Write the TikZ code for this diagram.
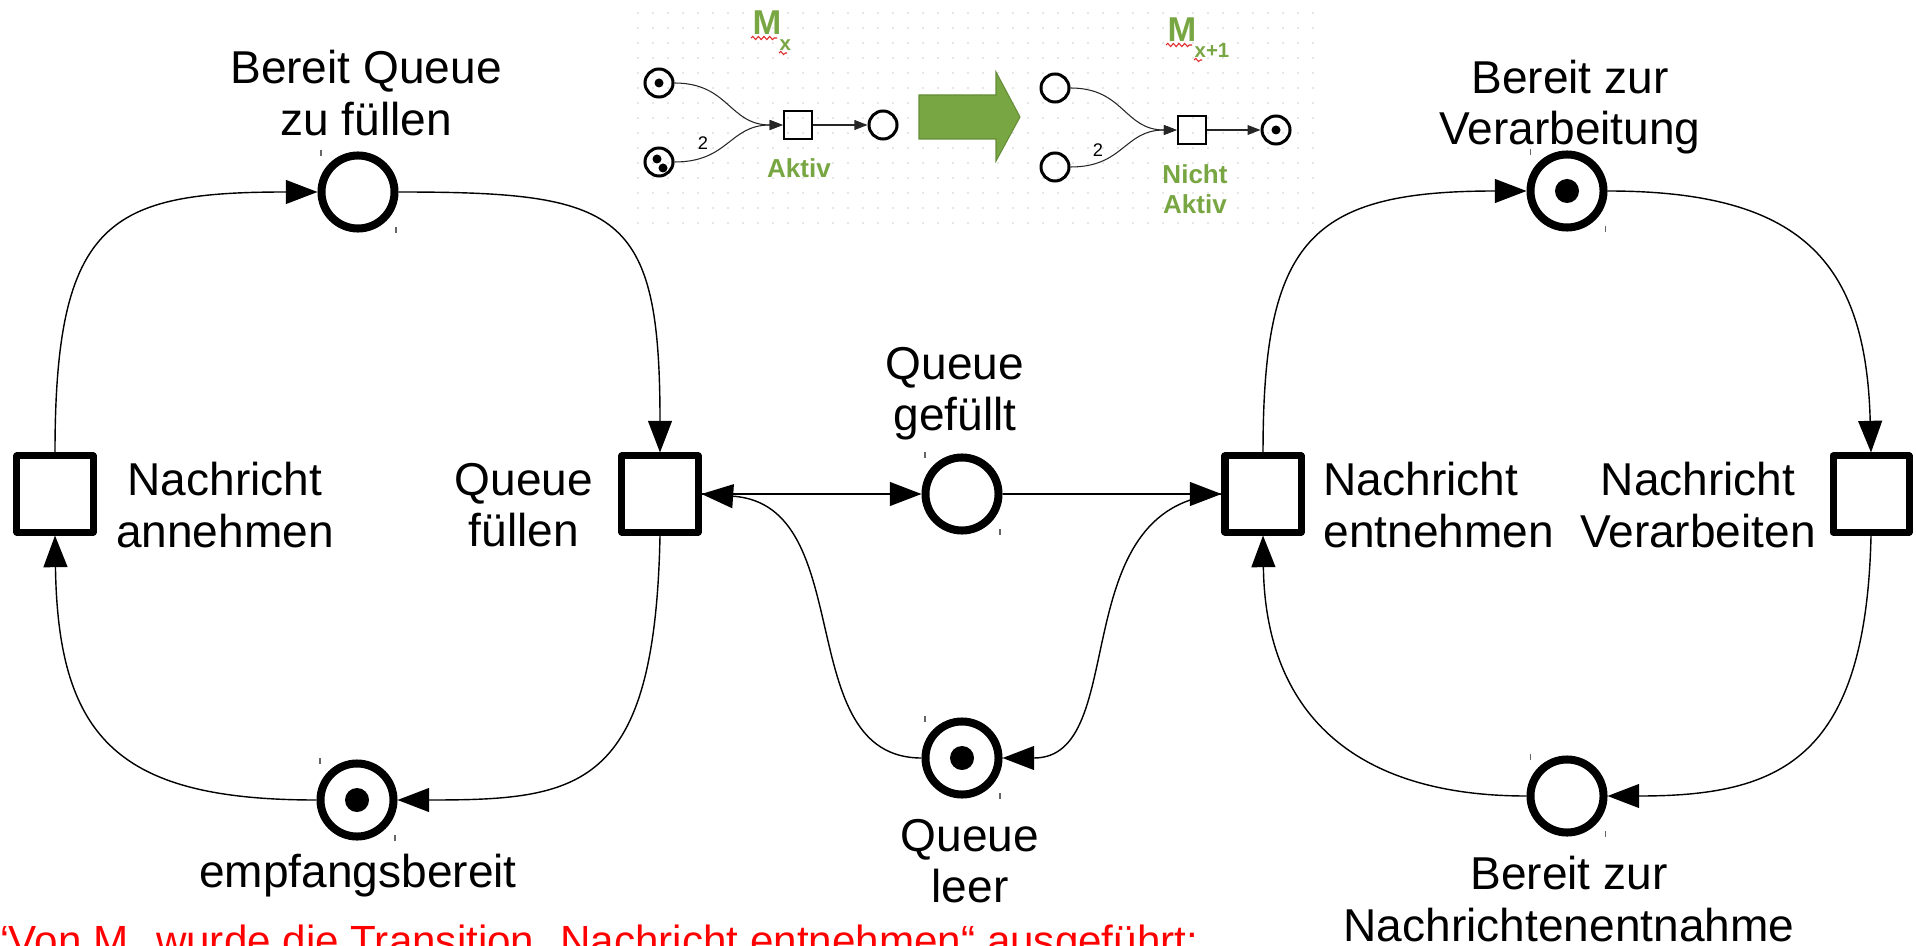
\documentclass[tikz,border=0pt]{standalone}
\usepackage{fontspec}
\setmainfont{Liberation Sans}
\usetikzlibrary{arrows.meta,decorations.pathmorphing}
\definecolor{okgreen}{RGB}{120,166,66}
\definecolor{spellred}{RGB}{225,40,40}
\begin{document}
\begin{tikzpicture}[x=0.01cm,y=-0.01cm,
  place/.style={circle,draw,line width=0.08cm,minimum size=0.73cm,inner sep=0pt},
  trans/.style={rectangle,draw,line width=0.07cm,minimum size=0.76cm,inner sep=0pt,line join=round},
  arc/.style={line width=0.4pt,-{Triangle[length=9pt,width=6.8pt]}},
  token/.style={circle,fill,inner sep=0pt,minimum size=0.24cm},
  lbl/.style={align=center,inner sep=0pt,font=\fontsize{13.1pt}{14.6pt}\selectfont},
  tick/.style={line width=0.3pt,black!60},
  iplace/.style={circle,draw,line width=0.03cm,minimum size=0.28cm,inner sep=0pt},
  itrans/.style={rectangle,draw,line width=0.025cm,minimum size=0.28cm,inner sep=0pt},
  itoken/.style={circle,fill,inner sep=0pt,minimum size=0.09cm},
  iarc/.style={line width=0.3pt,black!85,-{Triangle[length=3.7pt,width=2.8pt]}},
  ilbl/.style={align=center,inner sep=0pt,text=okgreen,font=\bfseries\fontsize{7.4pt}{8.6pt}\selectfont},
  mlbl/.style={anchor=base west,inner sep=0pt,text=okgreen,font=\bfseries\fontsize{9.8pt}{10pt}\selectfont},
  msub/.style={anchor=base west,inner sep=0pt,text=okgreen,font=\bfseries\fontsize{5.8pt}{6pt}\selectfont},
  weight/.style={inner sep=0pt,font=\fontsize{5.2pt}{6pt}\selectfont},
  squiggle/.style={spellred,line width=0.3pt,decorate,decoration={snake,amplitude=0.45pt,segment length=1.6pt}}
]
\useasboundingbox (0,0) rectangle (1916,946);

% ---------- dotted grid behind the firing example ----------
\foreach \i in {0,...,45}
  \foreach \j in {0,...,14}
    \fill[black!20] (638+15*\i,13+15*\j) circle (0.25pt);

% ---------- places ----------
\node[place] (P1) at (358,192) {};
\node[place] (P2) at (357,800) {};
\node[place] (P3) at (962,494) {};
\node[place] (P4) at (962,758) {};
\node[place] (P5) at (1567,191) {};
\node[place] (P6) at (1567,796) {};

% selection ticks at the corners of each place
\foreach \p in {P1,P2,P3,P4,P5,P6} {
  \draw[tick] ([shift={(-37,-42)}]\p.center) -- ++(0,6);
  \draw[tick] ([shift={(38,35)}]\p.center) -- ++(0,6);
}

% tokens
\node[token] at (P2) {};
\node[token] at (P4) {};
\node[token] at (P5) {};

% ---------- transitions ----------
\node[trans] (T1) at (55,494) {};
\node[trans] (T2) at (660,494) {};
\node[trans] (T3) at (1263,494) {};
\node[trans] (T4) at (1871,494) {};

% ---------- arcs ----------
\draw[arc] (T1.north) .. controls (55,220) and (110,192) .. (P1.west);
\draw[arc] (P1.east) .. controls (620,192) and (660,210) .. (T2.north);
\draw[arc] (T2.south) .. controls (655,790) and (580,800) .. (P2.east);
\draw[arc] (P2.west) .. controls (120,800) and (58,740) .. (T1.south);
\draw[arc] (T2.east) -- (P3.west);
\draw[arc] (P4.west) .. controls (790,758) and (860,505) .. (T2.east);
\draw[arc] (P3.east) -- (T3.west);
\draw[arc] (T3.west) .. controls (1062,505) and (1132,758) .. (P4.east);
\draw[arc] (T3.north) .. controls (1263,240) and (1310,191) .. (P5.west);
\draw[arc] (P5.east) .. controls (1800,191) and (1866,260) .. (T4.north);
\draw[arc] (T4.south) .. controls (1866,760) and (1780,796) .. (P6.east);
\draw[arc] (P6.west) .. controls (1340,796) and (1265,700) .. (T3.south);

% ---------- labels ----------
\node[lbl] (L1) at (366,93) {Bereit Queue\\zu füllen};
\node[lbl] (L2) at (358,876) {empfangsbereit};
\node[lbl] (L3) at (225,505) {Nachricht\\annehmen};
\node[lbl] (L4) at (524,505) {Queue\\füllen};
\node[lbl] (L5) at (955,394) {Queue\\gefüllt};
\node[lbl] (L6) at (970,861) {Queue\\leer};
\node[lbl,align=left,anchor=west] (L7) at (1323,505) {Nachricht\\entnehmen};
\node[lbl] (L8) at (1698,505) {Nachricht\\Verarbeiten};
\node[lbl] (L9) at (1570,107) {Bereit zur\\Verarbeitung};
\node[lbl] (L10) at (1569,899) {Bereit zur\\Nachrichtenentnahme};

\node[anchor=base east,inner sep=0pt,text=red,font=\fontsize{12pt}{14pt}\selectfont] (note)
  at (1199,955) {“Von M\textsubscript{x} wurde die Transition „Nachricht entnehmen“ ausgeführt:};

% ---------- firing example: marking M_x ----------
\node[mlbl] (Mx) at (752,35) {M};
\node[msub] (Mxs) at (779,51) {x};
\draw[squiggle] (751,38) -- (777,38);
\draw[squiggle] (779,53) -- (787,53);

\node[iplace] (a1) at (659,83) {};
\node[iplace] (a2) at (659,162) {};
\node[itrans] (at) at (798,125) {};
\node[iplace] (a3) at (883,125) {};
\node[itoken] at (a1) {};
\node[itoken] at ([shift={(-2,-3)}]a2.center) {};
\node[itoken] at ([shift={(4,6)}]a2.center) {};
\draw[iarc] (a1.east) .. controls (729,83) and (729,125) .. (at.west);
\draw[iarc] (a2.east) .. controls (729,162) and (729,125) .. (at.west);
\draw[iarc] (at.east) -- (a3.west);
\node[weight] (w1) at (703,143) {2};
\node[ilbl] (act) at (799,168) {Aktiv};

% firing arrow
\filldraw[fill=okgreen,draw=okgreen!85!black,line width=0.3pt]
  (919,95) -- (996,95) -- (996,72) -- (1020,117) -- (996,161) -- (996,139) -- (919,139) -- cycle;

% ---------- firing example: marking M_{x+1} ----------
\node[mlbl] (My) at (1167,42) {M};
\node[msub] (Mys) at (1194,58) {x+1};
\draw[squiggle] (1166,45) -- (1192,45);
\draw[squiggle] (1194,60) -- (1202,60);

\node[iplace] (b1) at (1055,88) {};
\node[iplace] (b2) at (1055,167) {};
\node[itrans] (bt) at (1192,130) {};
\node[iplace] (b3) at (1276,130) {};
\node[itoken] at (b3) {};
\draw[iarc] (b1.east) .. controls (1124,88) and (1124,130) .. (bt.west);
\draw[iarc] (b2.east) .. controls (1124,167) and (1124,130) .. (bt.west);
\draw[iarc] (bt.east) -- (b3.west);
\node[weight] (w2) at (1098,150) {2};
\node[ilbl] (nact) at (1195,189) {Nicht\\Aktiv};
\end{tikzpicture}
\end{document}
